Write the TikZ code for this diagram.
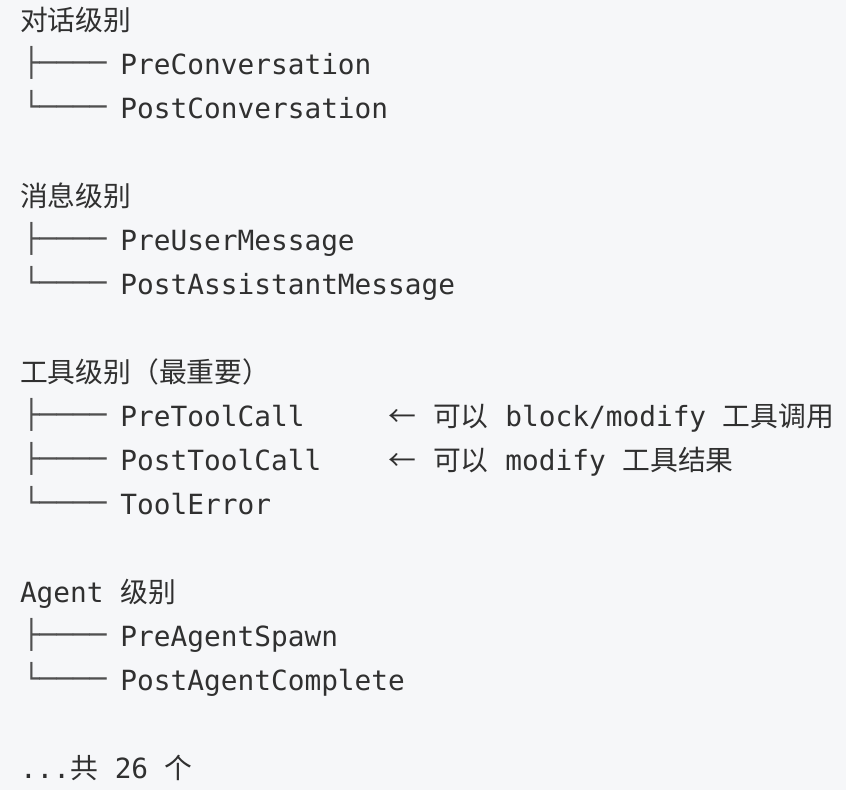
\documentclass[tikz,border=0pt]{standalone}
\usepackage{fontspec}
\newfontfamily\monof{DejaVu Sans Mono}
\newfontfamily\cjk{Noto Sans CJK SC}
\definecolor{bgc}{RGB}{246,247,249}
\definecolor{txt}{RGB}{48,48,48}
\definecolor{treec}{RGB}{80,80,80}
\newcommand\gap{\hspace*{16.75pt}}
\newcommand\tree[1]{\hspace*{3pt}\raisebox{2pt}{\textcolor{treec}{#1}}\hspace*{-3pt}}
\tikzset{
  line/.style={anchor=base west, inner sep=0pt, outer sep=0pt, text=txt,
    font=\monof\fontsize{27.8}{33}\selectfont},
}
\begin{document}
\begin{tikzpicture}[x=1pt,y=-1pt]
\path[fill=bgc, use as bounding box] (0,0) rectangle (846,790);
% group 1
\node[line] (h1) at (20,30) {\cjk 对话级别};
\node[line] (r1) at (20,74) {\tree{├────}\gap PreConversation};
\node[line] (r2) at (20,118) {\tree{└────}\gap PostConversation};
% group 2
\node[line] (h2) at (20,206) {\cjk 消息级别};
\node[line] (r5) at (20,250) {\tree{├────}\gap PreUserMessage};
\node[line] (r6) at (20,294) {\tree{└────}\gap PostAssistantMessage};
% group 3
\node[line] (h3) at (20,382) {\cjk 工具级别（最重要）};
\node[line] (r9) at (20,426) {\tree{├────}\gap PreToolCall};
\node[line] (c9) at (388.5,426) {{\cjk ←}\gap{\cjk 可以}\gap block/modify\gap{\cjk 工具调用}};
\node[line] (r10) at (20,470) {\tree{├────}\gap PostToolCall};
\node[line] (c10) at (388.5,470) {{\cjk ←}\gap{\cjk 可以}\gap modify\gap{\cjk 工具结果}};
\node[line] (r11) at (20,514) {\tree{└────}\gap ToolError};
% group 4
\node[line] (h4) at (20,602) {Agent\gap{\cjk 级别}};
\node[line] (r14) at (20,646) {\tree{├────}\gap PreAgentSpawn};
\node[line] (r15) at (20,690) {\tree{└────}\gap PostAgentComplete};
% footer
\node[line] (f) at (20,778) {...{\cjk 共}\gap 26\gap{\cjk 个}};
\end{tikzpicture}
\end{document}
